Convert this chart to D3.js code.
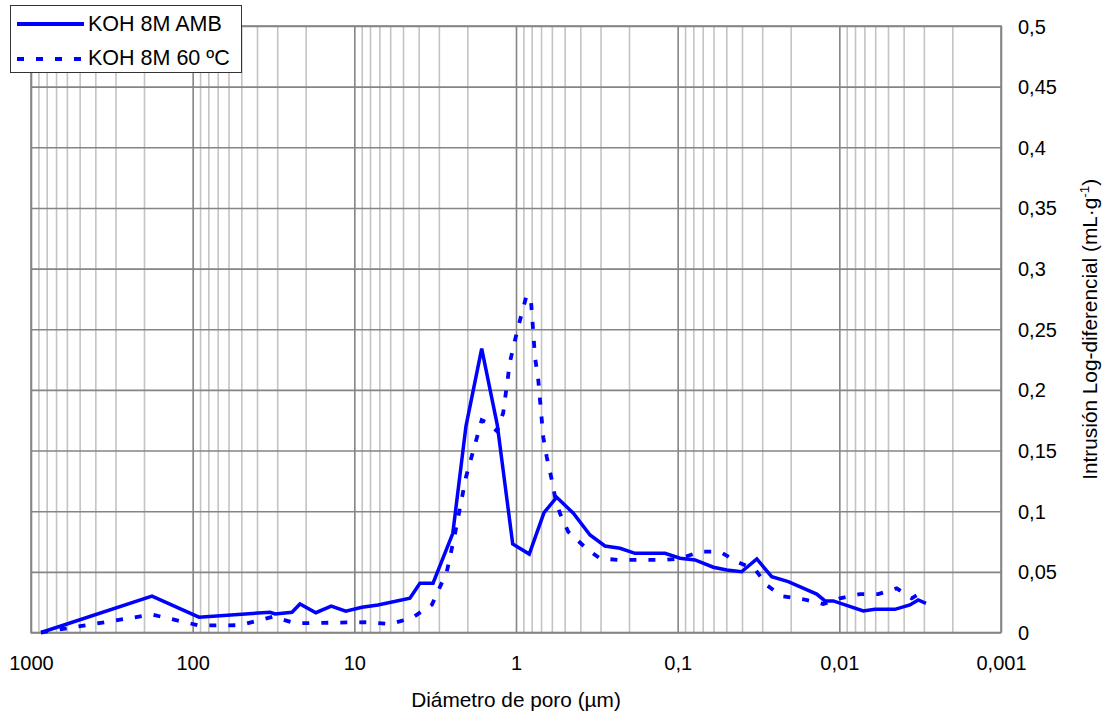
<!DOCTYPE html>
<html>
<head>
<meta charset="utf-8">
<script src="https://cdn.jsdelivr.net/npm/d3@7"></script>
<style>
  html, body { margin: 0; padding: 0; background: #ffffff; }
  svg { display: block; font-family: "Liberation Sans", Arial, sans-serif; }
</style>
</head>
<body>
<svg id="chart" width="1105" height="717"></svg>
<script>
// Pore diameter (µm) and log-differential intrusion (mL/g) for each sample
const diamAmb = [867, 178.5, 91.4, 33.2, 30.9, 24.3, 21.7, 17.3, 13.9, 11.3, 8.97, 7.14,
  4.53, 3.93, 3.26, 2.46, 2.04, 1.63, 1.305, 1.048, 0.828, 0.671, 0.560, 0.442, 0.3485,
  0.2816, 0.2274, 0.1837, 0.1198, 0.0967, 0.0781, 0.0602, 0.0497, 0.0402, 0.0324, 0.0262,
  0.0207, 0.0138, 0.01227, 0.0109, 0.00711, 0.00602, 0.00453, 0.00366, 0.00325, 0.00291];
const intrAmb = [0, 0.030, 0.0126, 0.0167, 0.0153, 0.0167, 0.0235, 0.0163, 0.0218, 0.0175,
  0.0208, 0.0227, 0.0282, 0.0406, 0.0406, 0.0818, 0.170, 0.234, 0.171, 0.0730, 0.0647,
  0.0988, 0.1115, 0.0983, 0.0804, 0.0713, 0.0694, 0.0653, 0.0653, 0.0612, 0.0598, 0.0538,
  0.0515, 0.0501, 0.0606, 0.046, 0.0419, 0.0317, 0.026, 0.026, 0.0177, 0.0191, 0.0191,
  0.0227, 0.0268, 0.0241];

const diam60 = [867, 178.5, 91.4, 50.9, 31.8, 23.3, 13.2, 8.59, 6.02, 4.40, 3.31, 2.68,
  2.38, 2.04, 1.63, 1.51, 1.31, 1.20, 1.09, 0.99, 0.922, 0.859, 0.808, 0.763, 0.728, 0.678,
  0.646, 0.601, 0.574, 0.534, 0.475, 0.365, 0.302, 0.2274, 0.1198, 0.0967, 0.0728, 0.0547,
  0.0431, 0.0332, 0.0281, 0.0227, 0.0167, 0.01257, 0.0099, 0.00745, 0.00574, 0.00442,
  0.00357, 0.00305];
const intr60 = [0, 0.0148, 0.0058, 0.006, 0.013, 0.0076, 0.0081, 0.0085, 0.007, 0.012,
  0.023, 0.050, 0.082, 0.128, 0.175, 0.173, 0.166, 0.181, 0.223, 0.247, 0.263, 0.278,
  0.274, 0.227, 0.208, 0.161, 0.145, 0.126, 0.112, 0.098, 0.083, 0.069, 0.061, 0.0598,
  0.0598, 0.061, 0.0666, 0.0666, 0.0584, 0.052, 0.039, 0.030, 0.0274, 0.0235, 0.0282,
  0.0317, 0.0317, 0.0364, 0.0282, 0.0336];

const seriesNames = ["KOH 8M AMB", "KOH 8M 60 ºC"];

// Axis ticks
const xTickValues = [1000, 100, 10, 1, 0.1, 0.01, 0.001];
const xTickLabels = ["1000", "100", "10", "1", "0,1", "0,01", "0,001"];
const yTickValues = [0, 0.05, 0.1, 0.15, 0.2, 0.25, 0.3, 0.35, 0.4, 0.45, 0.5];
const yTickLabels = ["0", "0,05", "0,1", "0,15", "0,2", "0,25", "0,3", "0,35", "0,4", "0,45", "0,5"];

const xTitle = "Diámetro de poro (µm)";
const yTitle = "Intrusión Log-diferencial (mL·g";

const svg = d3.select("#chart");
const W = 1105, H = 717;
const plot = { left: 31, right: 1001, top: 26, bottom: 632.5 };

svg.append("rect").attr("width", W).attr("height", H).attr("fill", "#ffffff");

const x = d3.scaleLog().domain([1000, 0.001]).range([plot.left, plot.right]);
const y = d3.scaleLinear().domain([0, 0.5]).range([plot.bottom, plot.top]);

// Minor log gridlines (2..9 of each decade)
const minorTicks = [];
for (let e = 2; e >= -3; e--) {
  for (let k = 2; k <= 9; k++) minorTicks.push(k * Math.pow(10, e));
}

const grid = svg.append("g");
grid.append("g")
  .attr("transform", `translate(0,${plot.bottom})`)
  .call(d3.axisBottom(x).tickValues(minorTicks).tickSize(-(plot.bottom - plot.top)).tickFormat(""))
  .call(g => g.select(".domain").remove())
  .call(g => g.selectAll("line").attr("stroke", "#c4c4c4").attr("stroke-width", 1.6));

grid.append("g")
  .attr("transform", `translate(0,${plot.bottom})`)
  .call(d3.axisBottom(x).tickValues(xTickValues).tickSize(-(plot.bottom - plot.top)).tickFormat(""))
  .call(g => g.select(".domain").remove())
  .call(g => g.selectAll("line").attr("stroke", "#858585").attr("stroke-width", 1.6));

grid.append("g")
  .attr("transform", `translate(${plot.left},0)`)
  .call(d3.axisLeft(y).tickValues(yTickValues).tickSize(-(plot.right - plot.left)).tickFormat(""))
  .call(g => g.select(".domain").remove())
  .call(g => g.selectAll("line").attr("stroke", "#858585").attr("stroke-width", 1.6));

svg.append("rect")
  .attr("x", plot.left).attr("y", plot.top)
  .attr("width", plot.right - plot.left).attr("height", plot.bottom - plot.top)
  .attr("fill", "none").attr("stroke", "#858585").attr("stroke-width", 1.6);

// Tick labels
svg.append("g")
  .attr("transform", `translate(0,${plot.bottom})`)
  .call(d3.axisBottom(x).tickValues(xTickValues).tickSize(0).tickPadding(0)
    .tickFormat((d, i) => xTickLabels[i]))
  .call(g => g.select(".domain").remove())
  .call(g => g.selectAll("text")
    .attr("y", 37).attr("dy", null)
    .attr("font-family", "Liberation Sans, Arial, sans-serif")
    .attr("font-size", 20).attr("fill", "#000"));

svg.append("g")
  .attr("transform", `translate(${plot.right},0)`)
  .call(d3.axisRight(y).tickValues(yTickValues).tickSize(0).tickPadding(0)
    .tickFormat((d, i) => yTickLabels[i]))
  .call(g => g.select(".domain").remove())
  .call(g => g.selectAll("text")
    .attr("x", 17).attr("dy", "0.35em")
    .attr("font-family", "Liberation Sans, Arial, sans-serif")
    .attr("font-size", 20).attr("fill", "#000"));

// Axis titles
svg.append("text")
  .attr("x", (plot.left + plot.right) / 2).attr("y", 707)
  .attr("text-anchor", "middle").attr("font-size", 20.8).attr("fill", "#000")
  .text(xTitle);

const yt = svg.append("text")
  .attr("transform", `translate(1097,${(plot.top + plot.bottom) / 2}) rotate(-90)`)
  .attr("text-anchor", "middle").attr("font-size", 20.8).attr("fill", "#000");
yt.append("tspan").text(yTitle);
yt.append("tspan").attr("font-size", 13.5).attr("dy", -8).text("-1");
yt.append("tspan").attr("dy", 8).text(")");

// Series
const line = d3.line().x(d => x(d[0])).y(d => y(d[1]));
const blue = "#0000ff";
const dashPattern = "7,12";

svg.append("path")
  .datum(diamAmb.map((d, i) => [d, intrAmb[i]]))
  .attr("d", line).attr("fill", "none")
  .attr("stroke", blue).attr("stroke-width", 3.5).attr("stroke-linejoin", "miter");

svg.append("path")
  .datum(diam60.map((d, i) => [d, intr60[i]]))
  .attr("d", line).attr("fill", "none")
  .attr("stroke", blue).attr("stroke-width", 3.8).attr("stroke-dasharray", dashPattern);

// Legend
const legend = svg.append("g");
legend.append("rect")
  .attr("x", 10.5).attr("y", 5.5).attr("width", 231).attr("height", 67)
  .attr("fill", "#ffffff").attr("stroke", "#333333").attr("stroke-width", 1);
const rows = [24, 59];
seriesNames.forEach((name, i) => {
  legend.append("line")
    .attr("x1", 17).attr("x2", 84).attr("y1", rows[i]).attr("y2", rows[i])
    .attr("stroke", blue).attr("stroke-width", 4)
    .attr("stroke-dasharray", i === 1 ? dashPattern : null);
  legend.append("text")
    .attr("x", 88).attr("y", rows[i] + 6 + (i === 1 ? -1 : 0))
    .attr("dy", "0.05em")
    .attr("font-size", 21.5).attr("fill", "#000")
    .text(name);
});
</script>
</body>
</html>
